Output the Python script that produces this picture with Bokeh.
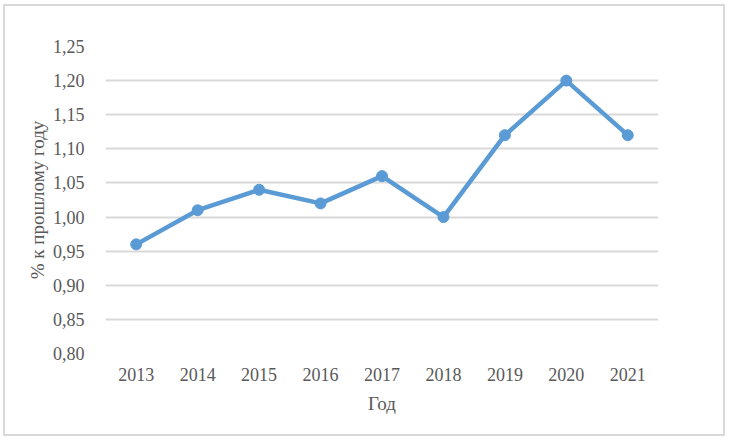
from bokeh.plotting import figure
from bokeh.models import FixedTicker, CustomJSTickFormatter, Range1d
from bokeh.embed import file_html
from bokeh.resources import INLINE

years = ["2013", "2014", "2015", "2016", "2017", "2018", "2019", "2020", "2021"]
values = [0.96, 1.01, 1.04, 1.02, 1.06, 1.00, 1.12, 1.20, 1.12]
y_ticks = [0.80, 0.85, 0.90, 0.95, 1.00, 1.05, 1.10, 1.15, 1.20, 1.25]

FONT = "Liberation Serif"
GRAY = "#595959"
BLUE = "#5B9BD5"

p = figure(x_range=years, y_range=Range1d(0.80, 1.25), width=722, height=432,
           output_backend="svg", toolbar_location=None,
           min_border_left=100, min_border_right=69, min_border_top=40, min_border_bottom=85)
p.styles = {"border": "2px solid #d9d9d9", "margin-left": "3px", "margin-top": "4px"}
p.x_range.range_padding = 0
p.outline_line_color = None

p.line(years, values, line_color=BLUE, line_width=4.5)
p.scatter(years, values, size=11, fill_color=BLUE, line_color=BLUE)

p.yaxis.ticker = FixedTicker(ticks=y_ticks)
p.yaxis.formatter = CustomJSTickFormatter(code="return tick.toFixed(2).replace('.', ',');")
for ax in (p.xaxis, p.yaxis):
    ax.axis_line_color = None
    ax.major_tick_line_color = None
    ax.minor_tick_line_color = None
    ax.major_label_text_font = FONT
    ax.major_label_text_font_size = "18px"
    ax.major_label_text_color = GRAY
    ax.axis_label_text_font = FONT
    ax.axis_label_text_font_size = "19px"
    ax.axis_label_text_color = GRAY
    ax.axis_label_text_font_style = "normal"
p.yaxis.major_label_standoff = 15
p.xaxis.major_label_standoff = 8
p.yaxis.axis_label = "% к прошлому году"
p.xaxis.axis_label = "Год"
p.yaxis.axis_label_standoff = 2
p.xaxis.axis_label_standoff = 9

p.xgrid.grid_line_color = None
p.ygrid.grid_line_color = "#d9d9d9"
p.ygrid.grid_line_width = 2

open("out.html", "w").write(file_html(p, INLINE))
